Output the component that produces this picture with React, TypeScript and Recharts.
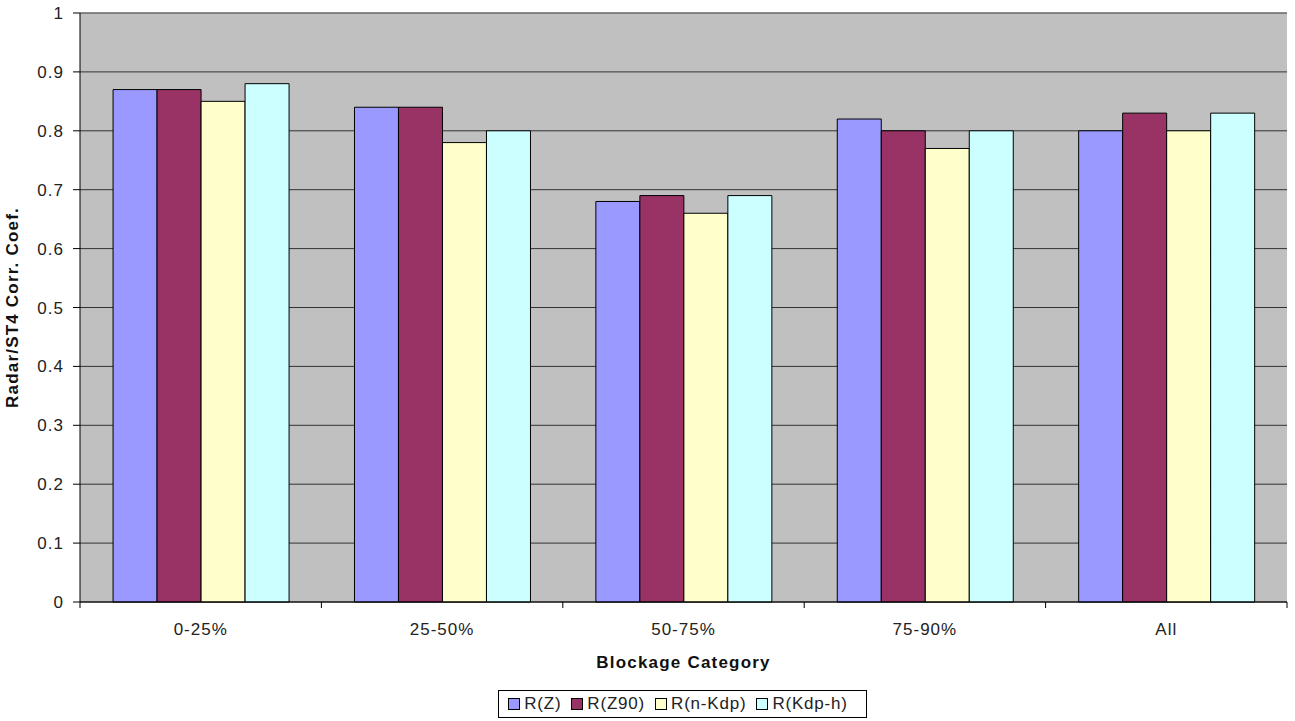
import { BarChart, Bar, XAxis, YAxis, CartesianGrid, Legend, ReferenceLine } from 'recharts'

const categories = ['0-25%', '25-50%', '50-75%', '75-90%', 'All']
const rZ = [0.87, 0.84, 0.68, 0.82, 0.8]
const rZ90 = [0.87, 0.84, 0.69, 0.8, 0.83]
const rNKdp = [0.85, 0.78, 0.66, 0.77, 0.8]
const rKdpH = [0.88, 0.8, 0.69, 0.8, 0.83]
const yTicks = [0, 0.1, 0.2, 0.3, 0.4, 0.5, 0.6, 0.7, 0.8, 0.9, 1]

const series = [
  { key: 'rZ', name: 'R(Z)', color: '#9999FF' },
  { key: 'rZ90', name: 'R(Z90)', color: '#993366' },
  { key: 'rNKdp', name: 'R(n-Kdp)', color: '#FFFFCC' },
  { key: 'rKdpH', name: 'R(Kdp-h)', color: '#CCFFFF' },
]

const W = 1295
const H = 721
const M = { top: 13, right: 8, left: 0, bottom: 3 }
const Y_W = 80
const BAND = (W - M.left - M.right - Y_W) / categories.length
const FONT = '"Liberation Sans", Arial, sans-serif'

const data = categories.map((c, i) => ({
  cat: c,
  rZ: rZ[i],
  rZ90: rZ90[i],
  rNKdp: rNKdp[i],
  rKdpH: rKdpH[i],
}))

function CatTick({ x, y, payload, index }: any) {
  return (
    <g>
      <line x1={x - BAND / 2} x2={x - BAND / 2} y1={y} y2={y + 6} stroke="#000" />
      {index === categories.length - 1 && (
        <line x1={x + BAND / 2} x2={x + BAND / 2} y1={y} y2={y + 6} stroke="#000" />
      )}
      <text
        x={x}
        y={y + 33}
        textAnchor="middle"
        fontSize={17}
        letterSpacing={1}
        fill="#222"
        fontFamily={FONT}
      >
        {payload.value}
      </text>
    </g>
  )
}

// legend sits centred under the plot area, not the whole chart
function LegendBox() {
  return (
    <div style={{ display: 'flex', justifyContent: 'center', paddingLeft: 78 }}>
      <div
        style={{
          border: '1px solid #000',
          height: 26,
          display: 'flex',
          alignItems: 'center',
          padding: '0 8px 0 9px',
          fontFamily: FONT,
          fontSize: 17,
          letterSpacing: 0.8,
          color: '#222',
          background: '#fff',
        }}
      >
        {series.map((s) => (
          <span key={s.key} style={{ display: 'flex', alignItems: 'center', marginRight: 10 }}>
            <span
              style={{
                width: 10,
                height: 10,
                background: s.color,
                border: '1px solid #000',
                marginRight: 4,
                display: 'inline-block',
              }}
            />
            {s.name}
          </span>
        ))}
      </div>
    </div>
  )
}

export default function App() {
  return (
    <div style={{ position: 'absolute', left: 0, top: 0, background: '#fff' }}>
      <BarChart
        width={W}
        height={H}
        data={data}
        margin={M}
        barCategoryGap="13.7%"
        barGap={0}
      >
        <CartesianGrid vertical={false} stroke="#333" fill="#C0C0C0" />
        <XAxis
          dataKey="cat"
          height={88}
          tickSize={0}
          tickMargin={0}
          tickLine={false}
          axisLine={{ stroke: '#000' }}
          tick={<CatTick />}
          interval={0}
          label={{
            value: 'Blockage Category',
            position: 'insideBottom',
            offset: 22,
            fontSize: 17,
            letterSpacing: 1.2,
            fontWeight: 'bold',
            fill: '#111',
            fontFamily: FONT,
          }}
        />
        <YAxis
          width={Y_W}
          domain={[0, 1]}
          ticks={yTicks}
          interval={0}
          tick={{ fontSize: 17, fill: '#222', fontFamily: FONT, letterSpacing: 1 }}
          tickSize={7}
          tickMargin={9}
          tickLine={{ stroke: '#000' }}
          axisLine={{ stroke: '#000' }}
          label={{
            value: 'Radar/ST4 Corr. Coef.',
            angle: -90,
            position: 'insideLeft',
            offset: 12,
            style: { textAnchor: 'middle' },
            fontSize: 17,
            letterSpacing: 1.2,
            fontWeight: 'bold',
            fill: '#111',
            fontFamily: FONT,
          }}
        />
        <ReferenceLine y={1} stroke="#808080" />
        <Legend
          verticalAlign="bottom"
          content={<LegendBox />}
          wrapperStyle={{ height: 28 }}
        />
        {series.map((s) => (
          <Bar
            key={s.key}
            dataKey={s.key}
            name={s.name}
            fill={s.color}
            stroke="#000"
            strokeWidth={1}
            isAnimationActive={false}
          />
        ))}
      </BarChart>
    </div>
  )
}
